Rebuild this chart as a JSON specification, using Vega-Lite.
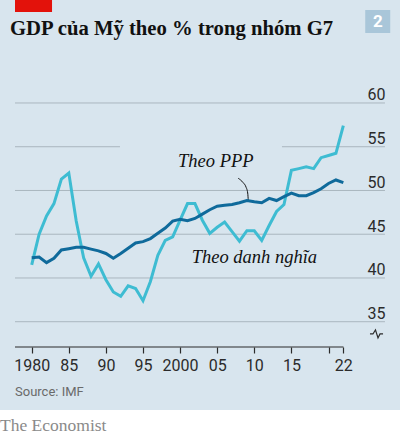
{
  "$schema": "https://vega.github.io/schema/vega-lite/v6.json",
  "width": 400,
  "height": 410,
  "autosize": "none",
  "padding": {"left": 0, "top": 0, "right": 0, "bottom": 25},
  "background": "#ffffff",
  "config": {"view": {"fill": "#d8e5ee", "stroke": null}},
  "title": {"text": "The Economist", "orient": "bottom", "anchor": "start", "frame": "group", "offset": 7, "font": "Liberation Serif", "fontSize": 17.5, "fontWeight": "normal", "color": "#8a8a8a"},
  "resolve": {"axis": {"x": "independent", "y": "independent"}},
  "datasets": {
    "grid": [{"v": 35}, {"v": 40}, {"v": 45}, {"v": 50}, {"v": 60}],
    "brk": [
      {"x": 2025.59, "y": 33.6}, {"x": 2025.99, "y": 33.6}, {"x": 2026.33, "y": 34.06},
      {"x": 2026.67, "y": 33.14}, {"x": 2026.94, "y": 33.6}, {"x": 2027.35, "y": 33.6}
    ],
    "leader": [
      {"x": 2007.84, "y": 51.39}, {"x": 2008.48, "y": 50.91}, {"x": 2008.88, "y": 50.4},
      {"x": 2009.11, "y": 49.71}, {"x": 2009.19, "y": 48.83}
    ],
    "gdp": [
      {"year": 1980, "series": "Theo danh nghĩa", "value": 41.5},
      {"year": 1981, "series": "Theo danh nghĩa", "value": 45.0},
      {"year": 1982, "series": "Theo danh nghĩa", "value": 47.1},
      {"year": 1983, "series": "Theo danh nghĩa", "value": 48.5},
      {"year": 1984, "series": "Theo danh nghĩa", "value": 51.3},
      {"year": 1985, "series": "Theo danh nghĩa", "value": 52.0},
      {"year": 1986, "series": "Theo danh nghĩa", "value": 46.5},
      {"year": 1987, "series": "Theo danh nghĩa", "value": 42.3},
      {"year": 1988, "series": "Theo danh nghĩa", "value": 40.2},
      {"year": 1989, "series": "Theo danh nghĩa", "value": 41.6},
      {"year": 1990, "series": "Theo danh nghĩa", "value": 39.8},
      {"year": 1991, "series": "Theo danh nghĩa", "value": 38.4},
      {"year": 1992, "series": "Theo danh nghĩa", "value": 37.9},
      {"year": 1993, "series": "Theo danh nghĩa", "value": 39.1},
      {"year": 1994, "series": "Theo danh nghĩa", "value": 38.8},
      {"year": 1995, "series": "Theo danh nghĩa", "value": 37.4},
      {"year": 1996, "series": "Theo danh nghĩa", "value": 39.6},
      {"year": 1997, "series": "Theo danh nghĩa", "value": 42.6},
      {"year": 1998, "series": "Theo danh nghĩa", "value": 44.3},
      {"year": 1999, "series": "Theo danh nghĩa", "value": 44.7},
      {"year": 2000, "series": "Theo danh nghĩa", "value": 46.6},
      {"year": 2001, "series": "Theo danh nghĩa", "value": 48.5},
      {"year": 2002, "series": "Theo danh nghĩa", "value": 48.5},
      {"year": 2003, "series": "Theo danh nghĩa", "value": 46.6},
      {"year": 2004, "series": "Theo danh nghĩa", "value": 45.1},
      {"year": 2005, "series": "Theo danh nghĩa", "value": 45.8},
      {"year": 2006, "series": "Theo danh nghĩa", "value": 46.4},
      {"year": 2007, "series": "Theo danh nghĩa", "value": 45.3},
      {"year": 2008, "series": "Theo danh nghĩa", "value": 44.2},
      {"year": 2009, "series": "Theo danh nghĩa", "value": 45.4},
      {"year": 2010, "series": "Theo danh nghĩa", "value": 45.4},
      {"year": 2011, "series": "Theo danh nghĩa", "value": 44.3},
      {"year": 2012, "series": "Theo danh nghĩa", "value": 46.0},
      {"year": 2013, "series": "Theo danh nghĩa", "value": 47.6},
      {"year": 2014, "series": "Theo danh nghĩa", "value": 48.4},
      {"year": 2015, "series": "Theo danh nghĩa", "value": 52.3},
      {"year": 2016, "series": "Theo danh nghĩa", "value": 52.5},
      {"year": 2017, "series": "Theo danh nghĩa", "value": 52.7},
      {"year": 2018, "series": "Theo danh nghĩa", "value": 52.5},
      {"year": 2019, "series": "Theo danh nghĩa", "value": 53.75},
      {"year": 2020, "series": "Theo danh nghĩa", "value": 54.0},
      {"year": 2021, "series": "Theo danh nghĩa", "value": 54.25},
      {"year": 2022, "series": "Theo danh nghĩa", "value": 57.4},
      {"year": 1980, "series": "Theo PPP", "value": 42.3},
      {"year": 1981, "series": "Theo PPP", "value": 42.4},
      {"year": 1982, "series": "Theo PPP", "value": 41.75},
      {"year": 1983, "series": "Theo PPP", "value": 42.25},
      {"year": 1984, "series": "Theo PPP", "value": 43.2},
      {"year": 1985, "series": "Theo PPP", "value": 43.35},
      {"year": 1986, "series": "Theo PPP", "value": 43.5},
      {"year": 1987, "series": "Theo PPP", "value": 43.5},
      {"year": 1988, "series": "Theo PPP", "value": 43.3},
      {"year": 1989, "series": "Theo PPP", "value": 43.1},
      {"year": 1990, "series": "Theo PPP", "value": 42.8},
      {"year": 1991, "series": "Theo PPP", "value": 42.25},
      {"year": 1992, "series": "Theo PPP", "value": 42.8},
      {"year": 1993, "series": "Theo PPP", "value": 43.4},
      {"year": 1994, "series": "Theo PPP", "value": 44.0},
      {"year": 1995, "series": "Theo PPP", "value": 44.15},
      {"year": 1996, "series": "Theo PPP", "value": 44.5},
      {"year": 1997, "series": "Theo PPP", "value": 45.1},
      {"year": 1998, "series": "Theo PPP", "value": 45.7},
      {"year": 1999, "series": "Theo PPP", "value": 46.5},
      {"year": 2000, "series": "Theo PPP", "value": 46.7},
      {"year": 2001, "series": "Theo PPP", "value": 46.55},
      {"year": 2002, "series": "Theo PPP", "value": 46.8},
      {"year": 2003, "series": "Theo PPP", "value": 47.3},
      {"year": 2004, "series": "Theo PPP", "value": 47.8},
      {"year": 2005, "series": "Theo PPP", "value": 48.2},
      {"year": 2006, "series": "Theo PPP", "value": 48.3},
      {"year": 2007, "series": "Theo PPP", "value": 48.4},
      {"year": 2008, "series": "Theo PPP", "value": 48.6},
      {"year": 2009, "series": "Theo PPP", "value": 48.85},
      {"year": 2010, "series": "Theo PPP", "value": 48.7},
      {"year": 2011, "series": "Theo PPP", "value": 48.6},
      {"year": 2012, "series": "Theo PPP", "value": 49.1},
      {"year": 2013, "series": "Theo PPP", "value": 48.85},
      {"year": 2014, "series": "Theo PPP", "value": 49.3},
      {"year": 2015, "series": "Theo PPP", "value": 49.7},
      {"year": 2016, "series": "Theo PPP", "value": 49.4},
      {"year": 2017, "series": "Theo PPP", "value": 49.4},
      {"year": 2018, "series": "Theo PPP", "value": 49.75},
      {"year": 2019, "series": "Theo PPP", "value": 50.2},
      {"year": 2020, "series": "Theo PPP", "value": 50.8},
      {"year": 2021, "series": "Theo PPP", "value": 51.2},
      {"year": 2022, "series": "Theo PPP", "value": 50.9}
    ]
  },
  "layer": [
    {
      "data": {"name": "grid"},
      "mark": {"type": "rule", "color": "#aab6bf", "strokeWidth": 1},
      "encoding": {
        "x": {"datum": 1977.75, "type": "quantitative", "scale": {"domain": [1975.728, 2029.636], "nice": false, "zero": false},
          "axis": {"orient": "bottom", "offset": -63, "domain": false, "grid": false, "title": null,
            "values": [1980, 1985, 1990, 1995, 2000, 2005, 2010, 2015, 2020, 2022],
            "labelExpr": "datum.value == 2020 ? '' : ((datum.value == 1980 || datum.value == 2000) ? '' + datum.value : slice('0' + (datum.value % 100), -2))",
            "ticks": true, "tickSize": 6, "tickColor": "#2b2b2b", "tickWidth": 1.2,
            "labelFont": "Roboto", "labelFontSize": 16, "labelColor": "#2b2b2b", "labelPadding": 4,
            "labelOverlap": false, "labelFlush": false}},
        "x2": {"datum": 2027.61},
        "y": {"field": "v", "type": "quantitative", "scale": {"domain": [24.91, 71.77], "nice": false, "zero": false},
          "axis": {"orient": "right", "offset": -15, "domain": false, "grid": false, "ticks": false, "tickSize": 0, "title": null,
            "values": [35, 40, 45, 50, 55, 60],
            "labelAlign": "right", "labelBaseline": "alphabetic", "labelOffset": -3, "labelPadding": 0,
            "labelFont": "Roboto", "labelFontSize": 16, "labelColor": "#2b2b2b", "labelOverlap": false, "labelFlush": false}}
      }
    },
    {
      "data": {"values": [{}]},
      "mark": {"type": "rule", "color": "#aab6bf", "strokeWidth": 1},
      "encoding": {
        "x": {"datum": 1977.75, "type": "quantitative", "scale": {"domain": [1975.728, 2029.636], "nice": false, "zero": false}, "axis": null},
        "x2": {"datum": 1991.9},
        "y": {"datum": 55, "type": "quantitative", "scale": {"domain": [24.91, 71.77], "nice": false, "zero": false}, "axis": null}
      }
    },
    {
      "data": {"values": [{}]},
      "mark": {"type": "rule", "color": "#aab6bf", "strokeWidth": 1},
      "encoding": {
        "x": {"datum": 2013.73, "type": "quantitative", "scale": {"domain": [1975.728, 2029.636], "nice": false, "zero": false}, "axis": null},
        "x2": {"datum": 2027.61},
        "y": {"datum": 55, "type": "quantitative", "scale": {"domain": [24.91, 71.77], "nice": false, "zero": false}, "axis": null}
      }
    },
    {
      "data": {"values": [{}]},
      "mark": {"type": "rule", "color": "#2b2b2b", "strokeWidth": 1.2},
      "encoding": {
        "x": {"datum": 1977.75, "type": "quantitative", "scale": {"domain": [1975.728, 2029.636], "nice": false, "zero": false}, "axis": null},
        "x2": {"datum": 2022.02},
        "y": {"datum": 32.11, "type": "quantitative", "scale": {"domain": [24.91, 71.77], "nice": false, "zero": false}, "axis": null}
      }
    },
    {
      "data": {"name": "brk"},
      "mark": {"type": "line", "color": "#2b2b2b", "strokeWidth": 1.2},
      "encoding": {
        "x": {"field": "x", "type": "quantitative", "scale": {"domain": [1975.728, 2029.636], "nice": false, "zero": false}, "axis": null},
        "y": {"field": "y", "type": "quantitative", "scale": {"domain": [24.91, 71.77], "nice": false, "zero": false}, "axis": null}
      }
    },
    {
      "data": {"values": [{}]},
      "mark": {"type": "rect", "color": "#e3120b"},
      "encoding": {
        "x": {"datum": 1977.75, "type": "quantitative", "scale": {"domain": [1975.728, 2029.636], "nice": false, "zero": false}, "axis": null},
        "x2": {"datum": 1982.74},
        "y": {"datum": 71.77, "type": "quantitative", "scale": {"domain": [24.91, 71.77], "nice": false, "zero": false}, "axis": null},
        "y2": {"datum": 70.4}
      }
    },
    {
      "data": {"values": [{}]},
      "mark": {"type": "rect", "color": "#a9c6d9"},
      "encoding": {
        "x": {"datum": 2024.95, "type": "quantitative", "scale": {"domain": [1975.728, 2029.636], "nice": false, "zero": false}, "axis": null},
        "x2": {"datum": 2028.32},
        "y": {"datum": 70.63, "type": "quantitative", "scale": {"domain": [24.91, 71.77], "nice": false, "zero": false}, "axis": null},
        "y2": {"datum": 68.0}
      }
    },
    {
      "data": {"values": [{}]},
      "mark": {"type": "text", "text": "2", "color": "#ffffff", "font": "Roboto", "fontWeight": "bold", "fontSize": 17, "align": "center", "baseline": "middle"},
      "encoding": {
        "x": {"datum": 2026.64, "type": "quantitative", "scale": {"domain": [1975.728, 2029.636], "nice": false, "zero": false}, "axis": null},
        "y": {"datum": 69.31, "type": "quantitative", "scale": {"domain": [24.91, 71.77], "nice": false, "zero": false}, "axis": null}
      }
    },
    {
      "data": {"values": [{}]},
      "mark": {"type": "text", "text": "GDP của Mỹ theo % trong nhóm G7", "color": "#111111", "font": "Liberation Serif", "fontWeight": "bold", "fontSize": 20.7, "align": "left", "baseline": "alphabetic"},
      "encoding": {
        "x": {"datum": 1977.08, "type": "quantitative", "scale": {"domain": [1975.728, 2029.636], "nice": false, "zero": false}, "axis": null},
        "y": {"datum": 67.77, "type": "quantitative", "scale": {"domain": [24.91, 71.77], "nice": false, "zero": false}, "axis": null}
      }
    },
    {
      "data": {"name": "leader"},
      "mark": {"type": "line", "color": "#111111", "strokeWidth": 1, "interpolate": "monotone"},
      "encoding": {
        "x": {"field": "x", "type": "quantitative", "scale": {"domain": [1975.728, 2029.636], "nice": false, "zero": false}, "axis": null},
        "y": {"field": "y", "type": "quantitative", "scale": {"domain": [24.91, 71.77], "nice": false, "zero": false}, "axis": null}
      }
    },
    {
      "data": {"name": "gdp"},
      "transform": [{"filter": "datum.series == 'Theo danh nghĩa'"}],
      "mark": {"type": "line", "color": "#3ebcd2", "strokeWidth": 3},
      "encoding": {
        "x": {"field": "year", "type": "quantitative", "scale": {"domain": [1975.728, 2029.636], "nice": false, "zero": false}, "axis": null},
        "y": {"field": "value", "type": "quantitative", "scale": {"domain": [24.91, 71.77], "nice": false, "zero": false}, "axis": null}
      }
    },
    {
      "data": {"name": "gdp"},
      "transform": [{"filter": "datum.series == 'Theo PPP'"}],
      "mark": {"type": "line", "color": "#0f6a9b", "strokeWidth": 3},
      "encoding": {
        "x": {"field": "year", "type": "quantitative", "scale": {"domain": [1975.728, 2029.636], "nice": false, "zero": false}, "axis": null},
        "y": {"field": "value", "type": "quantitative", "scale": {"domain": [24.91, 71.77], "nice": false, "zero": false}, "axis": null}
      }
    },
    {
      "data": {"values": [{}]},
      "mark": {"type": "text", "text": "Theo PPP", "color": "#111111", "font": "Liberation Serif", "fontStyle": "italic", "fontSize": 18.5, "align": "left", "baseline": "alphabetic"},
      "encoding": {
        "x": {"datum": 1999.72, "type": "quantitative", "scale": {"domain": [1975.728, 2029.636], "nice": false, "zero": false}, "axis": null},
        "y": {"datum": 52.68, "type": "quantitative", "scale": {"domain": [24.91, 71.77], "nice": false, "zero": false}, "axis": null}
      }
    },
    {
      "data": {"values": [{}]},
      "mark": {"type": "text", "text": "Theo danh nghĩa", "color": "#111111", "font": "Liberation Serif", "fontStyle": "italic", "fontSize": 18.5, "align": "left", "baseline": "alphabetic"},
      "encoding": {
        "x": {"datum": 2001.56, "type": "quantitative", "scale": {"domain": [1975.728, 2029.636], "nice": false, "zero": false}, "axis": null},
        "y": {"datum": 41.68, "type": "quantitative", "scale": {"domain": [24.91, 71.77], "nice": false, "zero": false}, "axis": null}
      }
    },
    {
      "data": {"values": [{}]},
      "mark": {"type": "text", "text": "Source: IMF", "color": "#6a6a6a", "font": "Roboto", "fontSize": 13, "align": "left", "baseline": "alphabetic"},
      "encoding": {
        "x": {"datum": 1977.75, "type": "quantitative", "scale": {"domain": [1975.728, 2029.636], "nice": false, "zero": false}, "axis": null},
        "y": {"datum": 26.51, "type": "quantitative", "scale": {"domain": [24.91, 71.77], "nice": false, "zero": false}, "axis": null}
      }
    }
  ]
}
